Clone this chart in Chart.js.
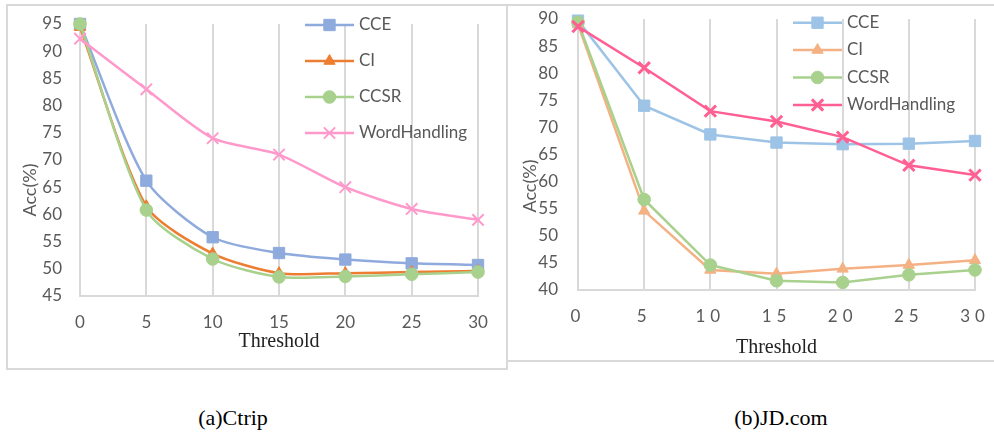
<!DOCTYPE html>
<html>
<head>
<meta charset="utf-8">
<script src="https://cdn.jsdelivr.net/npm/chart.js@4.4.1/dist/chart.umd.min.js"></script>
<style>
  body { margin: 0; background: #fff; width: 994px; height: 435px; position: relative; overflow: hidden; }
  .frame { position: absolute; border: 2px solid #d9d9d9; box-sizing: border-box; }
  #frameA { left: 6px; top: 4px; width: 502px; height: 366px; }
  #frameB { left: 506px; top: 4px; width: 500px; height: 358px; }
  canvas { position: absolute; }
  #ctrip { left: 8px; top: 6px; }
  #jd { left: 508px; top: 6px; }
  .caption { position: absolute; top: 405px; font-family: "Liberation Serif", serif; font-size: 22px; color: #000; transform: translateX(-50%); white-space: nowrap; }
</style>
</head>
<body>
<div class="frame" id="frameA"></div>
<div class="frame" id="frameB"></div>
<canvas id="ctrip" width="498" height="362"></canvas>
<canvas id="jd" width="486" height="354"></canvas>
<div class="caption" style="left:233px">(a)Ctrip</div>
<div class="caption" style="left:781px">(b)JD.com</div>
<script>
// thresholds on the x axis
const thresholds = ['0', '5', '10', '15', '20', '25', '30'];
const seriesNames = ['CCE', 'CI', 'CCSR', 'WordHandling'];

// accuracy (%) on Ctrip
const ctripCCE  = [95.0, 66.2, 55.8, 52.9, 51.7, 51.0, 50.7];
const ctripCI   = [94.4, 61.5, 52.8, 49.2, 49.2, 49.4, 49.6];
const ctripCCSR = [95.0, 60.8, 51.8, 48.5, 48.6, 49.0, 49.4];
const ctripWH   = [92.3, 83.0, 74.0, 71.0, 65.0, 61.0, 59.0];
const ctripYMin = 45, ctripYMax = 95;

// accuracy (%) on JD.com
const jdCCE  = [89.7, 74.0, 68.7, 67.2, 66.9, 67.0, 67.5];
const jdCI   = [89.0, 54.6, 43.7, 43.0, 43.9, 44.6, 45.5];
const jdCCSR = [89.4, 56.7, 44.6, 41.7, 41.4, 42.8, 43.7];
const jdWH   = [88.6, 81.0, 73.0, 71.1, 68.2, 63.0, 61.2];
const jdYMin = 40, jdYMax = 90;

Chart.defaults.font.family = 'Lato';
Chart.defaults.color = '#595959';

const GRID = '#d9d9d9';

// legend drawn inside the plot, one row per dataset
const sideLegend = {
  id: 'sideLegend',
  afterDraw(chart, args, opts) {
    const ctx = chart.ctx;
    ctx.save();
    ctx.letterSpacing = '0px';
    chart.data.datasets.forEach((ds, i) => {
      const y = opts.rows[i];
      ctx.strokeStyle = ds.borderColor;
      ctx.lineWidth = ds.borderWidth;
      ctx.beginPath();
      ctx.moveTo(opts.x0, y);
      ctx.lineTo(opts.x1, y);
      ctx.stroke();
      ctx.fillStyle = ds.pointBackgroundColor;
      ctx.lineWidth = ds.pointBorderWidth;
      Chart.helpers.drawPoint(ctx, {
        pointStyle: ds.pointStyle, radius: ds.pointRadius,
        rotation: 0, borderWidth: ds.pointBorderWidth
      }, (opts.x0 + opts.x1) / 2, y);
      ctx.fillStyle = '#595959';
      ctx.font = '17px Lato';
      ctx.textAlign = 'left';
      ctx.textBaseline = 'middle';
      ctx.fillText(ds.label, opts.textX, y);
    });
    ctx.restore();
  }
};

// rotated y axis caption
const yCaption = {
  id: 'yCaption',
  afterDraw(chart, args, opts) {
    const ctx = chart.ctx;
    ctx.save();
    ctx.letterSpacing = '0px';
    ctx.translate(opts.x, opts.y);
    ctx.rotate(-Math.PI / 2);
    ctx.font = '18px Lato';
    ctx.fillStyle = '#595959';
    ctx.textAlign = 'center';
    ctx.textBaseline = 'middle';
    ctx.fillText(opts.text, 0, 0);
    ctx.restore();
  }
};

// spaced-out x tick digits (ticks drawn in a layer after the datasets)
const spacedTicks = {
  id: 'spacedTicks',
  afterDatasetsDraw(chart) { chart.ctx.letterSpacing = '5px'; },
  afterDraw(chart) { chart.ctx.letterSpacing = '0px'; }
};

function makeSet(label, data, color, style, radius, pbw, tension, order) {
  return {
    label, data, order,
    borderColor: color,
    backgroundColor: color,
    pointBackgroundColor: color,
    pointBorderColor: color,
    borderWidth: 2.5,
    pointStyle: style,
    pointRadius: radius,
    pointBorderWidth: pbw,
    tension,
    clip: false
  };
}

// nudge paddings / axis sizes until the plot area sits on the wanted box
function pinArea(chart, layout) {
  const box = layout.box;
  for (let k = 0; k < 4; k++) {
    const a = chart.chartArea;
    const dT = box.top - a.top, dR = a.right - box.right;
    const dL = box.left - a.left, dB = a.bottom - box.bottom;
    if (Math.max(Math.abs(dT), Math.abs(dR), Math.abs(dL), Math.abs(dB)) < 0.5) break;
    layout.pad.top += dT;
    layout.pad.right += dR;
    layout.yW += dL;
    layout.xH += dB;
    chart.update();
  }
}

function buildChart(id, sets, yMin, yMax, layout, extra) {
  layout.pad = { left: 0, top: layout.box.top, right: layout.right, bottom: 0 };
  const chart = new Chart(document.getElementById(id), {
    type: 'line',
    data: { labels: thresholds, datasets: sets },
    options: {
      responsive: false,
      animation: false,
      layout: { padding: layout.pad },
      scales: {
        x: {
          offset: false,
          grid: { color: GRID, lineWidth: 2, drawTicks: false },
          border: { color: GRID, width: 2 },
          ticks: { font: { size: 17 }, padding: layout.xPad, maxRotation: 0, z: extra.tickZ },
          title: {
            display: true, text: 'Threshold', color: '#222',
            font: { family: 'Liberation Serif', size: 20 },
            padding: { top: 0, bottom: layout.titlePad }
          },
          afterFit(s) {
            s.height = layout.xH;
            s.paddingLeft = 0;
            s.paddingRight = 0;
          }
        },
        y: {
          min: yMin, max: yMax,
          grid: { display: false, drawTicks: false },
          border: { display: false },
          ticks: { stepSize: 5, font: { size: 17 }, padding: layout.yPad },
          afterFit(s) {
            s.width = layout.yW;
            s.paddingTop = 0;
            s.paddingBottom = 0;
          }
        }
      },
      plugins: {
        legend: { display: false },
        tooltip: { enabled: false },
        sideLegend: extra.legend,
        yCaption: extra.caption
      }
    },
    plugins: extra.plugins
  });
  pinArea(chart, layout);
  return chart;
}

buildChart('ctrip', [
  makeSet(seriesNames[0], ctripCCE,  '#8faadc', 'rect',     8,   1, 0.25, 3),
  makeSet(seriesNames[1], ctripCI,   '#ed7d31', 'triangle', 6.5, 1, 0.25, 2),
  makeSet(seriesNames[2], ctripCCSR, '#a9d18e', 'circle',   6.3, 1, 0.25, 1),
  makeSet(seriesNames[3], ctripWH,   '#ff99cc', 'crossRot', 8,   2, 0.25, 0)
], ctripYMin, ctripYMax,
  { box: { left: 72, top: 18, right: 470, bottom: 290 }, right: 28, xH: 72, yW: 72, xPad: 16, yPad: 18, titlePad: 14 },
  {
    tickZ: 0,
    legend: { x0: 297, x1: 346, textX: 351, rows: [19, 55, 91, 127] },
    caption: { text: 'Acc(%)', x: 22, y: 184 },
    plugins: [sideLegend, yCaption]
  });

buildChart('jd', [
  makeSet(seriesNames[0], jdCCE,  '#9dc3e6', 'rect',     8,   1, 0, 3),
  makeSet(seriesNames[1], jdCI,   '#f4b183', 'triangle', 6.5, 1, 0, 2),
  makeSet(seriesNames[2], jdCCSR, '#a9d18e', 'circle',   6.3, 1, 0, 1),
  makeSet(seriesNames[3], jdWH,   '#ff5f92', 'crossRot', 8,   3, 0, 0)
], jdYMin, jdYMax,
  { box: { left: 70, top: 13, right: 467, bottom: 284 }, right: 19, xH: 70, yW: 70, xPad: 16, yPad: 20, titlePad: 0 },
  {
    tickZ: 1,
    legend: { x0: 285, x1: 334, textX: 339, rows: [16.7, 44, 71.5, 99] },
    caption: { text: 'Acc(%)', x: 22, y: 180 },
    plugins: [spacedTicks, sideLegend, yCaption]
  });
</script>
</body>
</html>
